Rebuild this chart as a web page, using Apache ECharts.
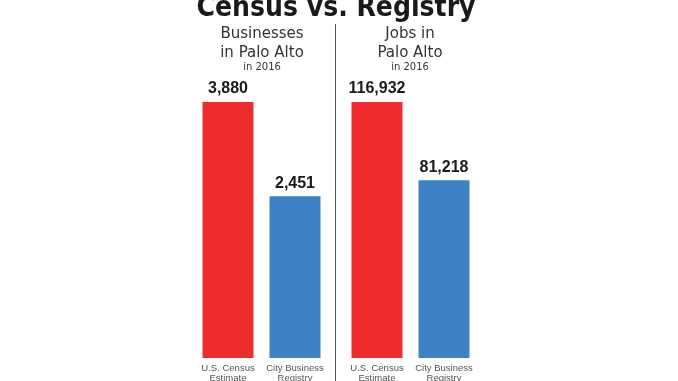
<!DOCTYPE html>
<html>
<head>
<meta charset="utf-8">
<script src="https://cdn.jsdelivr.net/npm/echarts@6/dist/echarts.min.js"></script>
<style>
html,body{margin:0;padding:0;background:#fff;}
#c{width:678px;height:381px;}
</style>
</head>
<body>
<div id="c"></div>
<script>
var categories = ['U.S. Census\nEstimate', 'City Business\nRegistry'];
var businesses = [3880, 2451];
var jobs = [116932, 81218];
var barColors = ['#ee2c2e', '#3d82c5'];

var chart = echarts.init(document.getElementById('c'));

function mkData(vals) {
  return vals.map(function (v, i) {
    return { value: v, itemStyle: { color: barColors[i] } };
  });
}

var labelStyle = {
  show: true,
  position: 'top',
  distance: 5,
  fontFamily: 'Liberation Sans, Arial, sans-serif',
  fontWeight: 'bold',
  fontSize: 16,
  color: '#1a1a1a',
  formatter: function (p) { return p.value.toLocaleString('en-US'); }
};

var xAxisBase = {
  type: 'category',
  data: categories,
  axisLine: { show: false },
  axisTick: { show: false },
  axisLabel: {
    interval: 0,
    hideOverlap: false,
    margin: 5,
    fontFamily: 'Liberation Sans, Arial, sans-serif',
    fontSize: 9.5,
    lineHeight: 10,
    color: '#555'
  }
};

var subStyle = {
  fontFamily: 'DejaVu Sans, sans-serif',
  fontSize: 15,
  fill: '#333',
  textAlign: 'center',
  textVerticalAlign: 'middle'
};
function txt(x, y, s, extra) {
  var st = Object.assign({}, subStyle, extra || {}, { text: s });
  return { type: 'text', x: x, y: y, style: st, silent: true };
}

chart.setOption({
  animation: false,
  grid: [
    { left: 194.5, width: 134, top: 102, bottom: 23, containLabel: false, outerBoundsMode: 'none' },
    { left: 343.5, width: 134, top: 102, bottom: 23, containLabel: false, outerBoundsMode: 'none' }
  ],
  xAxis: [
    Object.assign({ gridIndex: 0 }, xAxisBase),
    Object.assign({ gridIndex: 1 }, xAxisBase)
  ],
  yAxis: [
    { gridIndex: 0, type: 'value', min: 0, max: businesses[0], show: false },
    { gridIndex: 1, type: 'value', min: 0, max: jobs[0], show: false }
  ],
  series: [
    { type: 'bar', xAxisIndex: 0, yAxisIndex: 0, barWidth: 51, data: mkData(businesses), label: labelStyle },
    { type: 'bar', xAxisIndex: 1, yAxisIndex: 1, barWidth: 51, data: mkData(jobs), label: labelStyle }
  ],
  graphic: [
    txt(336, 9, 'Census vs. Registry', {
      fontFamily: 'Liberation Sans Narrow, DejaVu Sans Condensed, Arial Narrow, sans-serif',
      fontWeight: 'bold', fontSize: 28, fill: '#1a1a1a'
    }),
    txt(262, 34.5, 'Businesses'),
    txt(262, 53, 'in Palo Alto'),
    txt(262, 67.5, 'in 2016', { fontSize: 10 }),
    txt(410, 34.5, 'Jobs in'),
    txt(410, 53, 'Palo Alto'),
    txt(410, 67.5, 'in 2016', { fontSize: 10 }),
    {
      type: 'line', silent: true,
      shape: { x1: 335.5, y1: 24, x2: 335.5, y2: 381 },
      style: { stroke: '#555', lineWidth: 1 }
    }
  ]
});
</script>
</body>
</html>
